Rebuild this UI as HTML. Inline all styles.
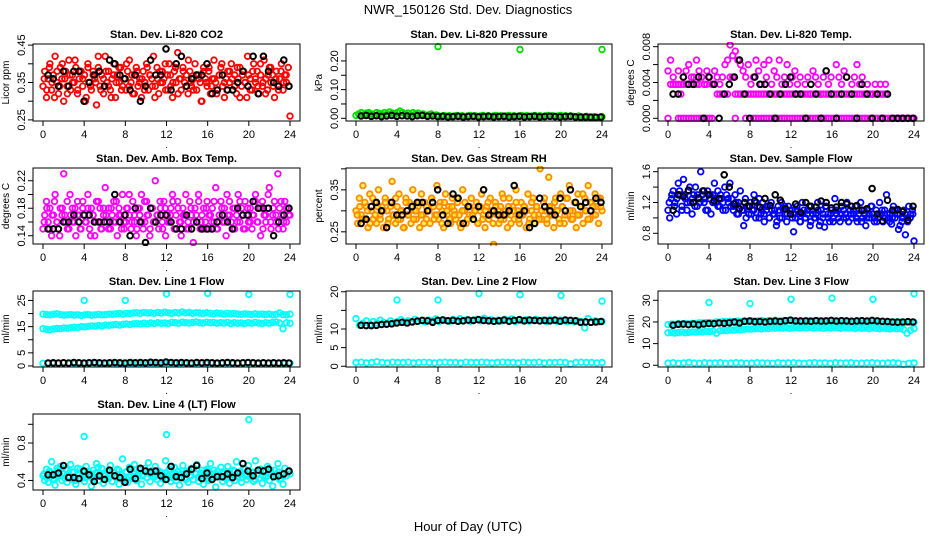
<!DOCTYPE html>
<html><head><meta charset="utf-8">
<style>
html,body{margin:0;padding:0;background:#fff;}
svg{display:block;font-family:"Liberation Sans",Arial,sans-serif;}
</style></head>
<body>
<svg id="chart" width="936" height="540" viewBox="0 0 936 540" xmlns="http://www.w3.org/2000/svg">
<text x="468" y="14" text-anchor="middle" font-size="13">NWR_150126  Std. Dev. Diagnostics</text>
<text x="468" y="531" text-anchor="middle" font-size="13">Hour of Day (UTC)</text>
</svg>
<script>
// ---- data arrays ----
const xTicks = [0,4,8,12,16,20,24];

const co2Red = [.34,.38,.31,.36,.40,.33,.37,.42,.35,.32,.39,.36,.30,.38,.34,.41,.33,.37,.35,.39,.32,.36,.38,.34,
.37,.31,.40,.35,.33,.38,.36,.29,.39,.34,.37,.32,.42,.35,.38,.33,.36,.40,.31,.37,.35,.39,.34,.36,
.33,.38,.41,.35,.32,.37,.39,.34,.36,.31,.38,.35,.40,.33,.37,.36,.42,.34,.39,.32,.35,.38,.36,.33,
.37,.40,.34,.31,.38,.35,.43,.36,.33,.39,.35,.37,.32,.38,.34,.36,.40,.33,.37,.35,.30,.39,.36,.34,
.38,.32,.36,.41,.35,.33,.37,.39,.34,.31,.36,.38,.35,.40,.33,.37,.32,.36,.39,.34,.38,.35,.31,.37,
.36,.33,.40,.35,.38,.32,.37,.34,.41,.36,.33,.39,.35,.37,.31,.38,.34,.36,.40,.33,.37,.35,.39,.26];
const co2Red2 = [.36,.33,.39,.35,.31,.38,.34,.40,.36,.32,.37,.35,.41,.33,.38,.36,.30,.39,.34,.37,.35,.42,.33,.36,
.38,.34,.31,.37,.35,.39,.33,.36,.40,.34,.37,.32,.38,.35,.36,.33,.39,.37,.34,.31,.36,.38,.35,.40,
.33,.37,.35,.39,.32,.36,.38,.34,.41,.35,.33,.37,.36,.30,.38,.35,.39,.34,.36,.32,.37,.40,.35,.33,
.38,.36,.34,.39,.31,.37,.35,.42,.33,.38,.36,.34,.40,.35,.32,.37,.39,.34,.36,.33,.38,.35,.37,.34];
const co2Black = [.37,.36,.34,.38,.34,.38,.38,.30,.35,.37,.38,.34,.41,.40,.37,.36,.33,.37,.30,.34,.41,.37,.37,.44,.33,.40,.42,.34,.36,.37,.37,.40,.32,.33,.37,.33,.33,.35,.38,.34,.42,.32,.42,.38,.35,.34,.41,.34];

const presGreen = [.010,.015,.020,.012,.018,.020,.015,.010,.020,.017,.013,.020,.015,.022,.018,.012,.020,.025,.020,.015,.018,.012,.020,.015,.018,.012,.015,.010,.012,.015,.010,.012,
.008,.006,.010,.007,.009,.006,.008,.010,.007,.009,.006,.008,.010,.007,.009,.006,.008,.010,.007,.009,.006,.008,.010,.007,.009,.006,.008,.010,.007,.009,.006,.008,
.010,.007,.009,.006,.008,.010,.007,.009,.006,.008,.010,.007,.009,.006,.008,.010,.007,.009,.006,.008,.007,.005,.008,.006,.004,.007,.005,.003,.006,.004,.002,.005];
const presOutHour = [8,16,24];
const presOutVal = [.250,.240,.240];
const presBlack = [.008,.010,.007,.009,.006,.008,.010,.007,.009,.008,.006,.009,.010,.007,.008,.006,.007,.005,.006,.007,.005,.006,.007,.005,.006,.007,.005,.006,.007,.005,.006,.007,.005,.006,.007,.005,.006,.007,.006,.005,.006,.007,.005,.004,.005,.004,.003,.005];

const tempHigh = [.0053,.0065,.0046,.0038,.0053,.0038,.0046,.0053,.006,.0038,.0046,.0065,.0053,
.0046,.0038,.0053,.0046,.0038,.0053,.0046,.0038,
.0046,.006,.0065,.0082,.007,.0075,.0065,.006,.0053,.0046,.006,.0038,
.0046,.0065,.0053,.0038,.006,.0046,.0065,.0038,.0053,.0046,.0065,.0038,.0046,.006,.0038,.0046,
.0053,.0038,.0046,.0027,.0038,.0046,.0027,.0053,.0046,.0038,.0027,.0046,.0053,.0038,.0046,.0027,.006,.0046,.0038,.0053,.0046,.0027,.0038,.0046,.006,.0038,.0046,.0027,
.0038,.0027,.0027,.0038,.0027,.0038,.0027,.0038,
null,null,null,null,null,null,null,null,null,null,null];
const tempMid = [null,.0038,.0038,.0038,.0038,.0027,.0038,.0038,.0038,.0046,.0038,.0038,.0038,.0046,.0038,.0038,.0046,.0038,.0038,.0027,.0027,
.0027,.0027,.0027,.0046,.0046,.0027,.0027,.0027,.0027,.0027,.0027,.0027,.0027,.0027,.0027,.0027,.0027,.0027,.0027,.0027,.0027,.0027,.0027,.0027,.0027,.0027,.0027,.0027,
.0027,.0027,.0027,.0027,.0027,.0027,.0027,.0027,.0027,.0027,.0027,.0027,.0027,.0027,.0027,.0027,.0027,.0027,.0027,.0027,.0027,.0027,.0027,.0027,.0027,.0027,.0027,.0027,
.0027,.0027,.0027,.0027,.0027,.0027,.0027,.0027,null,null,null,null,null,null,null,null,null,null,null];
const tempLow = [0,null,null,null,0,0,0,0,0,0,0,0,0,0,0,0,0,0,null,null,null,null,null,null,null,null,0,null,null,null,0,null,null,0,0,0,0,0,0,0,0,0,0,0,0,0,0,0,0,
0,0,0,0,0,0,0,0,0,0,0,0,0,0,0,0,0,0,0,0,0,0,0,0,0,0,0,0,0,0,0,0,0,0,0,0,0,0,0,0,0,0,0,0,0,0,0];
const tempBlack = [.0027,.0027,.0046,.0038,.0038,.0046,0,.0046,.0038,0,.0027,.0038,.0046,.0065,.0027,0,.0046,.0038,.0038,.0027,0,.0027,.0038,.0046,
.0027,.0027,0,.0038,.0027,0,.0053,.0027,0,.0027,.0046,.0027,0,.0038,.0027,0,.0027,0,.0027,0,0,0,0,0];

const ambMag = [.15,.17,.19,.16,.18,.14,.17,.20,.16,.15,.18,.17,.23,.16,.19,.15,.17,.18,.16,.14,.19,.17,.15,.18,
.17,.16,.20,.15,.18,.17,.14,.19,.16,.18,.15,.17,.21,.16,.18,.15,.17,.19,.16,.14,.18,.17,.20,.15,
.16,.18,.17,.15,.19,.16,.14,.18,.17,.20,.15,.16,.19,.17,.15,.18,.16,.22,.17,.15,.18,.16,.19,.14,
.17,.16,.18,.20,.15,.17,.19,.16,.14,.18,.17,.15,.16,.19,.17,.13,.18,.16,.20,.15,.17,.18,.16,.19,
.15,.17,.18,.16,.21,.15,.17,.19,.16,.18,.14,.17,.19,.16,.18,.15,.17,.20,.16,.18,.15,.19,.17,.16,
.18,.15,.17,.20,.16,.18,.14,.19,.17,.16,.18,.21,.15,.17,.19,.16,.23,.18,.17,.15,.19,.16,.18,.17];
const ambMag2 = [.16,.18,.15,.17,.19,.16,.14,.18,.17,.15,.20,.16,.18,.17,.15,.19,.16,.18,.14,.17,.16,.19,.15,.18,
.17,.15,.18,.16,.19,.17,.15,.16,.18,.20,.16,.17,.15,.18,.16,.19,.17,.14,.18,.16,.17,.19,.15,.18,
.16,.17,.19,.15,.18,.16,.17,.20,.15,.18,.16,.17,.19,.16,.15,.18,.17,.16,.19,.15,.17,.18,.16,.20,
.17,.15,.18,.16,.19,.17,.15,.18,.16,.17,.19,.16,.18,.15,.17,.20,.16,.18,.17,.15,.19,.16,.18,.17];
const ambBlack = [.15,.15,.15,.16,.16,.17,.16,.17,.17,.16,.16,.16,.16,.20,.16,.17,.14,.18,.16,.13,.18,.16,.17,.17,.16,.15,.15,.17,.15,.16,.15,.15,.15,.16,.17,.16,.15,.18,.17,.17,.19,.18,.18,.18,.14,.16,.17,.18];

const rhOrange = [.30,.27,.33,.29,.36,.28,.31,.26,.34,.30,.28,.32,.27,.35,.29,.31,.26,.33,.30,.28,.32,.37,.29,.27,
.31,.34,.28,.30,.26,.33,.29,.32,.27,.35,.30,.28,.31,.26,.34,.29,.32,.28,.30,.27,.33,.31,.29,.36,
.28,.32,.30,.26,.34,.29,.31,.27,.33,.30,.28,.32,.29,.26,.35,.30,.27,.31,.29,.33,.28,.30,.32,.27,
.30,.34,.29,.26,.31,.28,.33,.30,.22,.32,.29,.27,.31,.34,.28,.30,.26,.33,.29,.31,.28,.35,.30,.27,
.32,.29,.31,.26,.34,.28,.30,.33,.27,.31,.29,.40,.28,.32,.30,.27,.38,.29,.31,.26,.33,.30,.28,.34,
.31,.27,.33,.29,.36,.28,.30,.32,.26,.34,.29,.31,.27,.33,.30,.36,.28,.32,.29,.34,.31,.27,.33,.30];
const rhOrange2 = [.29,.31,.28,.32,.30,.27,.33,.29,.31,.28,.30,.32,.27,.31,.29,.33,.28,.30,.26,.32,.29,.31,.28,.30,
.32,.29,.27,.31,.30,.33,.28,.29,.31,.27,.32,.30,.28,.31,.29,.33,.27,.30,.32,.28,.31,.29,.30,.27,
.31,.28,.30,.32,.29,.27,.31,.30,.28,.33,.29,.31,.27,.30,.32,.28,.29,.31,.30,.27,.32,.29,.31,.28,
.30,.33,.28,.31,.29,.32,.30,.27,.31,.29,.33,.30,.28,.32,.29,.31,.34,.30,.28,.32,.31,.29,.33,.31];
const rhBlack = [.27,.28,.31,.32,.30,.26,.32,.29,.29,.30,.31,.32,.32,.30,.32,.35,.29,.27,.34,.33,.27,.31,.28,.31,.35,.29,.30,.29,.29,.30,.36,.29,.30,.26,.27,.33,.31,.30,.29,.33,.30,.35,.32,.31,.32,.30,.33,.32];

const flowBlue = [1.1,1.0,1.25,1.35,1.2,1.05,1.45,1.3,1.15,1.5,1.25,1.1,1.35,1.2,1.05,1.3,1.4,1.15,1.25,1.6,1.3,1.2,1.1,1.35,
1.25,1.05,1.3,1.45,1.2,1.35,1.15,1.25,1.1,1.4,1.3,1.2,1.45,1.25,1.15,1.3,1.05,1.2,1.35,1.1,0.9,1.25,1.15,1.05,
1.2,1.1,1.3,1.0,1.15,1.25,1.05,1.2,0.95,1.1,1.15,1.0,1.2,1.05,1.1,0.9,1.15,1.0,1.2,1.1,1.05,0.95,1.15,1.05,
1.1,0.82,1.0,1.15,1.05,0.95,1.2,1.1,1.0,1.05,1.15,0.95,1.1,1.0,1.05,1.2,0.9,1.1,1.0,0.88,1.15,1.05,0.95,1.1,
1.0,1.25,1.05,1.1,0.95,1.15,1.0,1.05,1.2,0.95,1.1,1.0,1.05,1.15,0.95,1.1,1.2,1.0,1.05,0.9,1.1,1.0,1.15,1.05,
0.95,1.1,1.0,1.2,1.05,0.95,1.1,1.3,1.0,1.05,0.92,1.15,1.0,1.1,0.85,1.05,0.95,1.1,0.78,1.0,1.15,1.05,1.1,0.7];
const flowBlue2 = [1.2,1.3,1.15,1.25,1.35,1.1,1.3,1.2,1.4,1.25,1.15,1.3,1.2,1.35,1.25,1.1,1.3,1.2,1.25,1.15,1.3,1.2,1.1,1.25,
1.15,1.1,1.2,1.05,1.15,1.1,1.0,1.15,1.05,1.1,1.2,1.0,1.1,1.05,1.15,1.0,1.1,1.05,0.95,1.1,1.0,1.15,1.05,1.1,
1.0,1.05,1.1,0.95,1.05,1.0,1.1,0.9,1.05,1.0,1.1,0.95,1.05,1.15,1.0,1.05,0.95,1.1,1.0,1.05,1.1,1.0,0.95,1.05,
1.1,1.0,1.05,0.95,1.1,1.0,1.05,1.15,1.0,0.95,1.05,1.1,1.0,1.05,0.95,1.0,1.1,1.05,0.9,1.0,1.05,0.95,1.0,1.05];
const flowBlack = [1.1,1.3,1.28,1.36,1.2,1.26,1.35,1.3,1.22,1.25,1.56,1.4,1.18,1.12,1.2,1.15,1.22,1.14,1.25,1.16,1.3,1.23,1.12,1.05,1.18,1.07,1.2,1.15,1.14,1.22,1.2,1.13,1.14,1.2,1.18,1.15,1.16,1.1,1.12,1.38,1.05,0.96,1.23,1.1,1.11,1.08,0.97,1.15];

const line1Upper = [19.8,19.6,19.5,19.7,19.9,19.6,19.4,19.5,19.6,19.4,19.5,19.3,19.5,19.6,19.4,19.5,19.7,19.5,19.6,19.8,19.7,19.9,20.0,19.8,20.1,20.0,20.2,20.3,20.1,20.4,20.2,20.3,20.1,20.4,20.2,20.5,20.3,20.1,20.4,20.2,20.6,20.3,20.4,20.1,20.3,20.2,20.0,20.3,20.1,19.9,20.2,20.0,19.8,20.1,19.9,20.0,19.8,19.7,19.9,19.8,19.6,19.9,19.7,19.8,19.6,19.8,19.5,19.7,20.2,19.6,19.5,19.8];
const line1Lower = [14.2,14.0,13.8,14.1,14.3,14.2,14.5,14.4,14.6,14.8,14.7,15.0,14.9,15.1,15.3,15.2,15.4,15.3,15.6,15.5,15.7,15.8,15.6,15.9,16.0,15.8,16.1,16.2,16.0,16.3,16.1,16.4,16.2,16.5,16.3,16.4,16.2,16.6,16.5,16.3,16.7,16.5,16.4,16.6,16.8,16.5,16.4,16.7,16.5,16.6,16.3,16.5,16.4,16.6,16.2,16.5,16.3,16.4,16.2,16.5,16.3,16.6,16.4,16.2,16.5,16.3,16.6,16.8,16.4,14.2,16.5,16.3];
const line1Base = [1.0,1.1,0.9,1.0,1.2,1.0,0.9,1.1,1.0,1.0,1.1,0.9,1.0,1.1,1.0,0.9,1.0,1.1,1.0,1.0,0.9,1.1,1.0,1.0,1.1,1.0,0.9,1.0,1.1,1.0,1.0,0.9,1.1,1.0,1.0,1.1,0.9,1.0,1.0,1.1,1.0,0.9,1.0,1.1,1.0,1.0,0.9,1.0];
const line1Black = [1.1,1.2,1.1,1.2,1.1,1.3,1.2,1.1,1.2,1.3,1.2,1.1,1.2,1.3,1.2,1.1,1.3,1.2,1.3,1.2,1.4,1.3,1.2,1.5,1.3,1.2,1.3,1.2,1.1,1.3,1.2,1.3,1.2,1.1,1.2,1.3,1.2,1.1,1.2,1.3,1.2,1.1,1.2,1.1,1.2,1.1,1.2,1.1];
const outHours6 = [4,8,12,16,20,24];
const line1Out = [25.0,25.0,27.5,27.7,27.3,27.3];

const line2Band = [12.8,11.0,11.5,12.2,11.3,12.0,11.6,12.4,11.8,11.5,12.2,11.7,12.0,12.5,11.8,12.2,12.0,12.6,12.1,12.3,11.9,12.4,12.2,12.7,12.0,12.5,12.3,12.1,12.6,12.2,12.8,12.3,12.5,12.1,12.4,12.6,12.2,12.9,12.3,12.5,12.1,12.4,12.2,12.6,12.3,12.7,12.0,12.4,12.2,12.5,12.1,12.3,12.6,12.2,12.4,12.0,12.5,12.3,12.1,12.4,12.2,12.0,12.3,11.9,12.2,12.0,10.3,12.8,11.8,12.2,11.9,12.0];
const line2Base = [1.0,1.1,0.9,1.0,1.2,1.0,0.9,1.1,1.0,1.0,1.1,0.9,1.0,1.1,1.0,0.9,1.0,1.1,1.0,1.0,0.9,1.1,1.0,1.0,1.1,1.0,0.9,1.0,1.1,1.0,1.0,0.9,1.1,1.0,1.0,1.1,0.9,1.0,1.0,1.1,1.0,0.6,1.0,1.1,1.0,1.0,0.9,1.0];
const line2Black = [11.0,10.9,10.9,11.0,11.2,11.3,11.4,11.6,11.8,11.6,11.9,12.1,12.3,12.2,11.8,12.3,12.4,12.2,12.3,12.1,12.2,12.4,12.3,12.5,12.3,12.2,12.1,12.2,12.4,12.1,12.3,12.5,12.2,12.4,12.3,12.2,12.3,12.2,12.4,12.1,12.4,12.3,12.2,11.8,11.9,11.8,11.9,12.0];
const line2Out = [17.8,17.8,19.5,19.2,19.0,17.5];

const line3Upper = [18.8,19.0,18.9,19.2,19.0,19.3,19.1,19.4,19.3,19.6,19.5,19.7,19.8,19.6,20.0,19.9,20.2,20.1,20.3,20.0,20.4,20.2,20.5,20.3,20.6,20.4,20.5,20.7,20.3,20.6,20.4,20.8,20.5,20.6,20.3,20.7,20.5,20.4,20.6,20.3,20.5,20.7,20.4,20.6,20.2,20.5,20.3,20.6,20.4,20.2,20.5,20.3,20.1,20.4,20.2,20.0,20.3,20.1,19.9,20.2,20.0,19.8,20.1,19.9,20.0,19.8,20.1,19.9,19.6,20.0,19.8,19.9];
const line3Lower = [15.0,15.2,14.9,15.1,15.3,15.0,15.2,15.4,15.3,15.5,15.4,15.7,15.6,15.8,14.8,15.9,16.1,16.0,16.3,16.2,16.5,16.4,16.6,16.8,16.7,16.9,17.0,16.8,17.1,17.0,17.2,17.1,17.3,17.2,17.4,17.1,17.3,17.5,17.2,17.4,17.3,17.5,17.2,17.4,17.3,17.1,17.4,17.2,17.5,17.3,17.1,17.4,17.2,17.3,17.0,17.3,17.1,17.2,17.0,17.3,17.1,16.9,17.2,17.0,16.8,17.1,16.9,17.0,16.5,14.8,16.2,17.0];
const line3Base = [1.0,1.2,0.9,1.1,1.3,1.0,0.9,1.2,1.0,1.1,1.2,0.9,1.0,1.2,1.1,0.9,1.0,1.2,1.1,1.0,0.9,1.2,1.0,1.1,1.2,1.0,0.9,1.1,1.2,1.0,1.1,0.9,1.2,1.0,1.1,1.2,0.9,1.0,1.1,1.2,1.0,0.9,1.1,1.2,1.0,0.5,0.9,1.1];
const line3Black = [18.5,18.9,19.0,18.8,19.0,18.7,19.1,19.3,19.2,19.5,19.4,19.6,20.0,19.5,20.3,20.4,20.1,20.2,20.0,20.3,20.4,20.2,20.6,20.8,20.5,20.4,20.5,20.3,20.6,20.4,20.5,20.7,20.4,20.6,20.5,20.3,20.5,20.6,20.4,20.7,20.5,20.3,20.2,20.0,19.9,20.0,20.1,20.0];
const line3Out = [29.0,28.5,30.5,31.0,30.5,33.0];

const line4Cyan = [.45,.40,.52,.38,.48,.60,.42,.35,.50,.45,.55,.40,.47,.52,.38,.44,.57,.41,.49,.36,.53,.46,.42,.50,
.39,.55,.44,.48,.34,.51,.43,.58,.40,.47,.53,.37,.45,.50,.42,.56,.39,.48,.44,.52,.36,.46,.63,.41,
.49,.38,.54,.45,.42,.57,.40,.48,.51,.36,.46,.53,.43,.59,.39,.47,.44,.55,.41,.50,.37,.48,.45,.61,
.42,.52,.39,.46,.54,.40,.49,.35,.47,.56,.43,.50,.38,.45,.53,.41,.48,.57,.39,.46,.51,.36,.44,.52,
.40,.58,.43,.47,.33,.50,.45,.54,.39,.48,.42,.55,.37,.46,.51,.40,.60,.44,.49,.38,.53,.45,.41,.56,
.43,.48,.39,.61,.46,.42,.52,.37,.49,.45,.55,.40,.47,.34,.51,.44,.58,.41,.48,.36,.53,.45,.50,.47];
const line4Cyan2 = [.47,.43,.50,.45,.41,.53,.46,.48,.42,.51,.44,.49,.40,.47,.52,.45,.43,.50,.46,.41,.48,.54,.44,.47,
.42,.50,.45,.48,.43,.51,.46,.40,.49,.44,.52,.47,.42,.48,.45,.50,.43,.47,.51,.44,.46,.49,.42,.48,
.45,.52,.43,.47,.50,.44,.46,.41,.49,.45,.53,.47,.43,.48,.45,.50,.42,.47,.51,.44,.46,.49,.43,.48,
.46,.42,.50,.45,.48,.43,.52,.46,.44,.49,.41,.47,.50,.45,.43,.48,.51,.44,.46,.49,.42,.47,.45,.50];
const line4Black = [.46,.46,.48,.56,.43,.43,.42,.50,.46,.39,.45,.41,.51,.45,.43,.38,.52,.42,.53,.50,.49,.50,.45,.41,.55,.44,.43,.47,.52,.56,.42,.48,.41,.44,.44,.47,.43,.48,.58,.50,.45,.51,.50,.52,.44,.45,.47,.50];
const line4OutHours = [4,12,20];
const line4Out = [0.87,0.89,1.05];

// ---- layout ----
const svg = document.getElementById('chart');
const NS = 'http://www.w3.org/2000/svg';
const colX = [[33,300],[346,612],[658,924]];
const rowY = [[44,121],[168,244],[291,367],[414,490]];

function mk(tag, attrs, parent){
  const e = document.createElementNS(NS, tag);
  for (const k in attrs) e.setAttribute(k, attrs[k]);
  (parent||svg).appendChild(e);
  return e;
}
function evenHours(n, a, b){ const out=[]; for(let i=0;i<n;i++) out.push(a + (b-a)*i/(n-1)); return out; }

const panels = [
 {name:'co2', title:'Stan. Dev. Li-820 CO2', ylab:'Licor ppm', c:0, r:0, ymin:0.247, ymax:0.453,
  ticks:[.25,.30,.35,.40,.45], labels:{'0.25':'0.25','0.35':'0.35','0.45':'0.45'},
  series:[{v:co2Red,col:'#ff0000',n:'co2-red'},{v:co2Red2,col:'#ff0000',n:'co2-red-2',off:true},{v:co2Black,col:'#000',n:'co2-black',black:true}]},
 {name:'pressure', title:'Stan. Dev. Li-820 Pressure', ylab:'kPa', c:1, r:0, ymin:-0.0094, ymax:0.259,
  ticks:[0,.05,.10,.15,.20], labels:{'0':'0.00','0.1':'0.10','0.2':'0.20'},
  series:[{v:presGreen,col:'#00dd00',n:'pressure-green'},{h:presOutHour,v:presOutVal,col:'#00dd00',n:'pressure-outlier'},{v:presBlack,col:'#000',n:'pressure-black',black:true}]},
 {name:'temp', title:'Stan. Dev. Li-820 Temp.', ylab:'degrees C', c:2, r:0, ymin:-0.0003, ymax:0.0083,
  ticks:[0,.002,.004,.006,.008], labels:{'0':'0.000','0.004':'0.004','0.008':'0.008'},
  series:[{v:tempLow,col:'#ff00ff',n:'temp-low'},{v:tempMid,col:'#ff00ff',n:'temp-mid'},{v:tempHigh,col:'#ff00ff',n:'temp-high'},{v:tempBlack,col:'#000',n:'temp-black',black:true}]},
 {name:'ambbox', title:'Stan. Dev. Amb. Box Temp.', ylab:'degrees C', c:0, r:1, ymin:0.128, ymax:0.2385,
  ticks:[.14,.16,.18,.20,.22], labels:{'0.14':'0.14','0.18':'0.18','0.22':'0.22'},
  series:[{v:ambMag,col:'#ff00ff',n:'ambbox-magenta'},{v:ambMag2,col:'#ff00ff',n:'ambbox-magenta-2',off:true},{v:ambBlack,col:'#000',n:'ambbox-black',black:true}]},
 {name:'rh', title:'Stan. Dev. Gas Stream RH', ylab:'percent', c:1, r:1, ymin:0.221, ymax:0.402,
  ticks:[.25,.30,.35,.40], labels:{'0.25':'0.25','0.35':'0.35'},
  series:[{v:rhOrange,col:'#ff8c00',fill:'rgba(255,230,0,0.6)',n:'rh-orange'},{v:rhOrange2,col:'#ff8c00',fill:'rgba(255,230,0,0.6)',n:'rh-orange-2',off:true},{v:rhBlack,col:'#000',n:'rh-black',black:true}]},
 {name:'sampleflow', title:'Stan. Dev. Sample Flow', ylab:'ml/min', c:2, r:1, ymin:0.661, ymax:1.648,
  ticks:[.8,1.0,1.2,1.4,1.6], labels:{'0.8':'0.8','1.2':'1.2','1.6':'1.6'},
  series:[{v:flowBlue,col:'#0000ff',n:'sampleflow-blue'},{v:flowBlue2,col:'#0000ff',n:'sampleflow-blue-2',off:true},{v:flowBlack,col:'#000',n:'sampleflow-black',black:true}]},
 {name:'line1', title:'Stan. Dev. Line 1 Flow', ylab:'ml/min', c:0, r:2, ymin:-0.4, ymax:28.6,
  ticks:[0,5,10,15,20,25], labels:{'0':'0','5':'5','15':'15','25':'25'},
  series:[{v:line1Upper,col:'#00ffff',n:'line1-upper'},{v:line1Lower,col:'#00ffff',n:'line1-lower'},{v:line1Base,col:'#00ffff',n:'line1-base'},{h:outHours6,v:line1Out,col:'#00ffff',n:'line1-outlier'},{v:line1Black,col:'#000',n:'line1-black',black:true}]},
 {name:'line2', title:'Stan. Dev. Line 2 Flow', ylab:'ml/min', c:1, r:2, ymin:-0.2, ymax:20.2,
  ticks:[0,5,10,15,20], labels:{'0':'0','5':'5','10':'10','20':'20'},
  series:[{v:line2Band,col:'#00ffff',n:'line2-band'},{v:line2Base,col:'#00ffff',n:'line2-base'},{h:outHours6,v:line2Out,col:'#00ffff',n:'line2-outlier'},{v:line2Black,col:'#000',n:'line2-black',black:true}]},
 {name:'line3', title:'Stan. Dev. Line 3 Flow', ylab:'ml/min', c:2, r:2, ymin:-0.8, ymax:34.3,
  ticks:[0,10,20,30], labels:{'0':'0','10':'10','20':'20','30':'30'},
  series:[{v:line3Upper,col:'#00ffff',n:'line3-upper'},{v:line3Lower,col:'#00ffff',n:'line3-lower'},{v:line3Base,col:'#00ffff',n:'line3-base'},{h:outHours6,v:line3Out,col:'#00ffff',n:'line3-outlier'},{v:line3Black,col:'#000',n:'line3-black',black:true}]},
 {name:'line4', title:'Stan. Dev. Line 4 (LT) Flow', ylab:'ml/min', c:0, r:3, ymin:0.298, ymax:1.11,
  ticks:[.4,.6,.8,1.0], labels:{'0.4':'0.4','0.8':'0.8'},
  series:[{v:line4Cyan,col:'#00ffff',n:'line4-cyan'},{v:line4Cyan2,col:'#00ffff',n:'line4-cyan-2',off:true},{h:line4OutHours,v:line4Out,col:'#00ffff',n:'line4-outlier'},{v:line4Black,col:'#000',n:'line4-black',black:true}]}
];

panels.forEach(p => {
  const [bx0,bx1] = colX[p.c], [by0,by1] = rowY[p.r];
  const xs = h => bx0 + 10 + (h/24)*(bx1-bx0-20);
  const ys = v => by1 - (v - p.ymin)/(p.ymax - p.ymin)*(by1-by0);
  const g = mk('g', {});
  
  

  const cp = mk('clipPath', {id:'clip-'+p.name}, g);
  mk('rect', {x:bx0, y:by0-2, width:bx1-bx0, height:by1-by0+4}, cp);

  const t = mk('text', {x:(bx0+bx1)/2, y:by0-6, 'text-anchor':'middle', 'font-size':'11', 'font-weight':'bold'}, g);
  t.textContent = p.title;
  
  

  const yl = mk('text', {x:0, y:0, 'text-anchor':'middle', 'font-size':'10', transform:`translate(${bx0-24},${(by0+by1)/2}) rotate(-90)`}, g);
  yl.textContent = p.ylab;
  
  

  const pts = mk('g', {'clip-path':`url(#clip-${p.name})`}, g);
  
  
  p.series.forEach(s => {
    let hrs;
    if (s.h) hrs = s.h;
    else if (s.black) hrs = evenHours(s.v.length, 0.5, 23.9);
    else if (s.off) hrs = evenHours(s.v.length, 0.12, 23.88);
    else hrs = evenHours(s.v.length, 0, 24);
    const sg = mk('g', {fill: s.fill || 'none', stroke:s.col, 'stroke-width': s.black ? 2 : 1.8}, pts);
    
    
    s.v.forEach((v,i) => {
      if (v === null) return;
      const c = mk('circle', {cx:xs(hrs[i]).toFixed(1), cy:ys(v).toFixed(1), r:2.8}, sg);
      
      
    });
  });

  const box = mk('rect', {x:bx0, y:by0, width:bx1-bx0, height:by1-by0, fill:'none', stroke:'#000', 'stroke-width':1}, g);
  
  

  const xa = mk('g', {stroke:'#000','stroke-width':1}, g);
  
  
  mk('line', {x1:xs(0), x2:xs(24), y1:by1, y2:by1}, xa);
  xTicks.forEach(h => {
    mk('line', {x1:xs(h), x2:xs(h), y1:by1, y2:by1+5}, xa);
    const tl = mk('text', {x:xs(h), y:by1+17, 'text-anchor':'middle', 'font-size':'11', stroke:'none', fill:'#000'}, g);
    tl.textContent = String(h);
    
    
  });
  const dot = mk('text', {x:(bx0+bx1)/2, y:by1+27, 'text-anchor':'middle', 'font-size':'9'}, g);
  dot.textContent = '.';
  
  

  const ya = mk('g', {stroke:'#000','stroke-width':1}, g);
  
  
  mk('line', {x1:bx0, x2:bx0, y1:ys(p.ticks[0]), y2:ys(p.ticks[p.ticks.length-1])}, ya);
  p.ticks.forEach(v => {
    mk('line', {x1:bx0-5, x2:bx0, y1:ys(v), y2:ys(v)}, ya);
    const key = String(+v.toFixed(4));
    if (p.labels[key] !== undefined) {
      const yt = mk('text', {x:0, y:0, 'text-anchor':'middle', 'font-size':'11', transform:`translate(${bx0-8},${ys(v)}) rotate(-90)`}, g);
      yt.textContent = p.labels[key];
      
      
    }
  });
});
</script>
</body></html>
